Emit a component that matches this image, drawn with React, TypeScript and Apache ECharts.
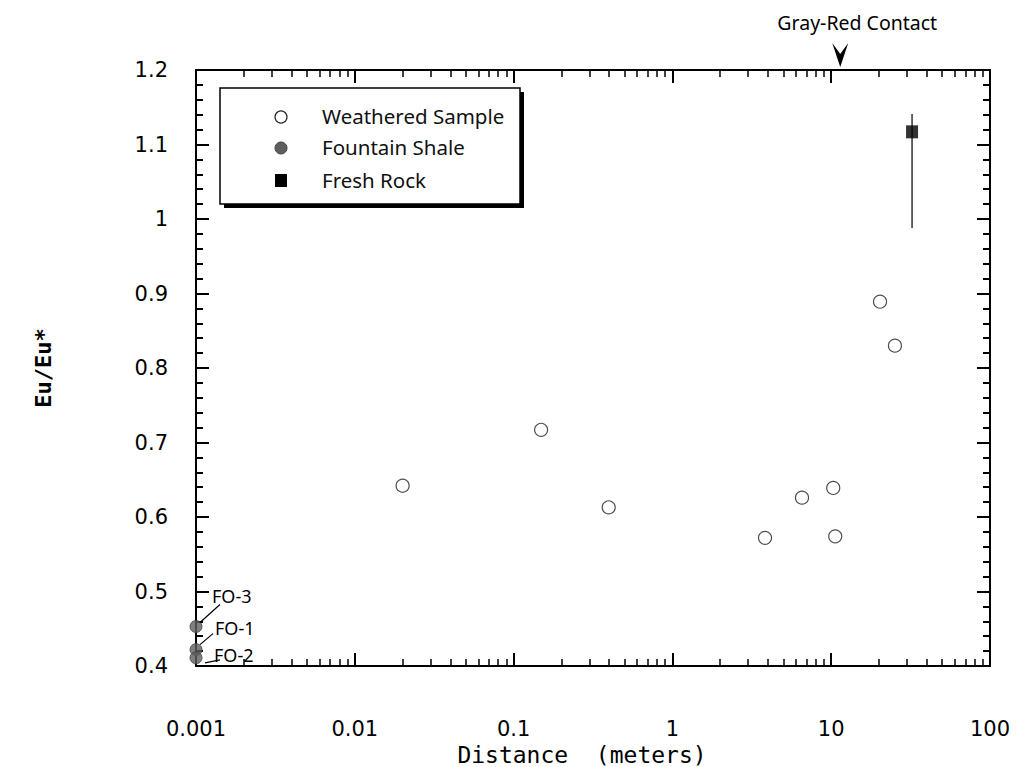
import React, { useEffect, useRef } from "react";
import * as echarts from "echarts";

// ---- data ----
const weatheredX = [0.0200, 0.149, 0.397, 3.83, 6.55, 10.3, 10.6, 20.3, 25.2];
const weatheredY = [0.642, 0.717, 0.613, 0.572, 0.626, 0.639, 0.574, 0.889, 0.830];

const shaleNames = ["FO-3", "FO-1", "FO-2"];
const shaleX = [0.001, 0.001, 0.001];
const shaleY = [0.453, 0.422, 0.411];

const freshX = [32.3];
const freshY = [1.117];
const freshErrLow = [0.988];
const freshErrHigh = [1.141];

const contactX = [11.4];
const contactLabel = "Gray-Red Contact";

const xTickLabels = ["0.001", "0.01", "0.1", "1", "10", "100"];
const yTickLabels = ["0.4", "0.5", "0.6", "0.7", "0.8", "0.9", "1", "1.1", "1.2"];
const xMin = 0.001;
const xMax = 100;
const yMin = 0.4;
const yMax = 1.2;
const yStep = 0.1;

const legendNames = ["Weathered Sample", "Fountain Shale", "Fresh Rock"];

// label layout (pixel offsets from the point), style only
const foLayout = [
  { tx: 16, ty: -31, lx1: 4, ly1: -4, lx2: 24, ly2: -22 },
  { tx: 19, ty: -22, lx1: 4, ly1: -5, lx2: 17, ly2: -16 },
  { tx: 18, ty: -3, lx1: 9, ly1: 5, lx2: 24, ly2: 2 },
];

const tickFont = { fontFamily: "DejaVu Sans", fontSize: 21, color: "#000" };
const labelFont = "Noto Sans";

function xAxisCfg(position: "bottom" | "top", showLabels: boolean) {
  return {
    type: "log",
    logBase: 10,
    min: xMin,
    max: xMax,
    position,
    axisLine: { show: true, onZero: false, lineStyle: { color: "#000", width: 2 } },
    axisTick: { show: true, inside: true, length: 13, lineStyle: { color: "#000", width: 2 } },
    minorTick: { show: true, splitNumber: 9, length: 7, lineStyle: { color: "#000", width: 1.5 } },
    splitLine: { show: false },
    minorSplitLine: { show: false },
    axisLabel: {
      show: showLabels,
      margin: 52,
      ...tickFont,
      formatter: (v: number) => {
        const i = Math.round(Math.log10(v) - Math.log10(xMin));
        return xTickLabels[i] ?? String(v);
      },
    },
    name: showLabels ? "Distance  (meters)" : "",
    nameLocation: "middle",
    nameGap: 75,
    nameTextStyle: {
      fontFamily: "DejaVu Sans Mono",
      fontSize: 23,
      color: "#000",
      padding: [0, 22, 0, 0],
    },
  };
}

function yAxisCfg(position: "left" | "right", showLabels: boolean) {
  return {
    type: "value",
    min: yMin,
    max: yMax,
    interval: yStep,
    position,
    axisLine: { show: true, onZero: false, lineStyle: { color: "#000", width: 2 } },
    axisTick: { show: true, inside: true, length: 13, lineStyle: { color: "#000", width: 2 } },
    minorTick: { show: true, splitNumber: 5, length: 7, lineStyle: { color: "#000", width: 2 } },
    splitLine: { show: false },
    minorSplitLine: { show: false },
    axisLabel: {
      show: showLabels,
      margin: 28,
      ...tickFont,
      formatter: (v: number) => {
        const i = Math.round((v - yMin) / yStep);
        return yTickLabels[i] ?? String(v);
      },
    },
    name: showLabels ? "Eu/Eu*" : "",
    nameLocation: "middle",
    nameGap: 142,
    nameRotate: 90,
    nameTextStyle: { fontFamily: "DejaVu Sans Mono", fontSize: 22, fontWeight: "bold", color: "#000" },
  };
}

function buildOption() {
  const legendChildren: any[] = [
    { type: "rect", shape: { x: 224, y: 92, width: 300, height: 116 }, style: { fill: "#000" } },
    { type: "rect", shape: { x: 220, y: 88, width: 300, height: 116 }, style: { fill: "#fff", stroke: "#000", lineWidth: 1.5 } },
    { type: "circle", shape: { cx: 281, cy: 117, r: 6 }, style: { fill: "#fff", stroke: "#222", lineWidth: 1.2 } },
    { type: "circle", shape: { cx: 281, cy: 148, r: 6 }, style: { fill: "#5e5e5e", stroke: "#444", lineWidth: 1 } },
    { type: "rect", shape: { x: 275, y: 174, width: 12, height: 13 }, style: { fill: "#000" } },
  ];
  const rowsY = [116, 147, 180];
  legendNames.forEach((n, i) => {
    legendChildren.push({
      type: "text",
      x: 322,
      y: rowsY[i],
      style: { text: n, fill: "#111", fontFamily: labelFont, fontSize: 20.5, align: "left", verticalAlign: "middle" },
    });
  });

  return {
    animation: false,
    backgroundColor: "#fff",
    textStyle: { fontFamily: "DejaVu Sans" },
    grid: { left: 196, right: 37, top: 70, bottom: 101, containLabel: false, outerBoundsMode: "none" },
    xAxis: [xAxisCfg("bottom", true), xAxisCfg("top", false)],
    yAxis: [yAxisCfg("left", true), yAxisCfg("right", false)],
    series: [
      {
        name: "Fresh Rock error",
        type: "custom",
        xAxisIndex: 0,
        yAxisIndex: 0,
        z: 1,
        data: freshX.map((x, i) => [x, freshErrLow[i], freshErrHigh[i]]),
        renderItem: (_p: any, api: any) => {
          const lo = api.coord([api.value(0), api.value(1)]);
          const hi = api.coord([api.value(0), api.value(2)]);
          return {
            type: "line",
            shape: { x1: lo[0], y1: lo[1], x2: hi[0], y2: hi[1] },
            style: { stroke: "#333", lineWidth: 1.5 },
          };
        },
      },
      {
        name: legendNames[0],
        type: "scatter",
        clip: false,
        z: 3,
        symbol: "circle",
        symbolSize: 13,
        itemStyle: { color: "#fff", borderColor: "#222", borderWidth: 1.2 },
        data: weatheredX.map((x, i) => [x, weatheredY[i]]),
      },
      {
        name: legendNames[1],
        type: "scatter",
        clip: false,
        z: 3,
        symbol: "circle",
        symbolSize: 12,
        itemStyle: { color: "#5e5e5e", borderColor: "#444", borderWidth: 1 },
        data: shaleX.map((x, i) => [x, shaleY[i]]),
      },
      {
        name: legendNames[2],
        type: "scatter",
        clip: false,
        z: 3,
        symbol: "rect",
        symbolSize: [12, 13],
        itemStyle: { color: "#000" },
        data: freshX.map((x, i) => [x, freshY[i]]),
      },
      {
        name: "Fountain Shale labels",
        type: "custom",
        z: 4,
        data: shaleX.map((x, i) => [x, shaleY[i], i]),
        renderItem: (_p: any, api: any) => {
          const p = api.coord([api.value(0), api.value(1)]);
          const i = api.value(2);
          const L = foLayout[i];
          return {
            type: "group",
            children: [
              {
                type: "line",
                shape: { x1: p[0] + L.lx1, y1: p[1] + L.ly1, x2: p[0] + L.lx2, y2: p[1] + L.ly2 },
                style: { stroke: "#000", lineWidth: 1.2 },
              },
              {
                type: "text",
                x: p[0] + L.tx,
                y: p[1] + L.ty,
                style: { text: shaleNames[i], fill: "#000", fontFamily: labelFont, fontSize: 18, lineHeight: 18, align: "left", verticalAlign: "middle" },
              },
            ],
          };
        },
      },
      {
        name: "Contact marker",
        type: "custom",
        z: 4,
        data: contactX.map((x) => [x, yMax]),
        renderItem: (_p: any, api: any) => {
          const p = api.coord([api.value(0), api.value(1)]);
          return {
            type: "group",
            children: [
              {
                type: "polygon",
                shape: {
                  points: [
                    [p[0] - 8, p[1] - 27],
                    [p[0], p[1] - 16],
                    [p[0] + 8, p[1] - 27],
                    [p[0], p[1] - 3],
                  ],
                },
                style: { fill: "#000" },
              },
              {
                type: "text",
                x: p[0] + 17,
                y: p[1] - 48,
                style: { text: contactLabel, fill: "#000", fontFamily: labelFont, fontSize: 19.5, align: "center", verticalAlign: "middle" },
              },
            ],
          };
        },
      },
    ],
    graphic: [{ type: "group", children: legendChildren }],
  };
}

export default function App() {
  const ref = useRef<HTMLDivElement>(null);
  useEffect(() => {
    if (!ref.current) return;
    const chart = echarts.init(ref.current, null, { renderer: "svg" });
    chart.setOption(buildOption() as any);
    return () => chart.dispose();
  }, []);
  return (
    <div
      ref={ref}
      style={{ position: "fixed", left: 0, top: 0, width: 1027, height: 767, background: "#fff" }}
    />
  );
}
